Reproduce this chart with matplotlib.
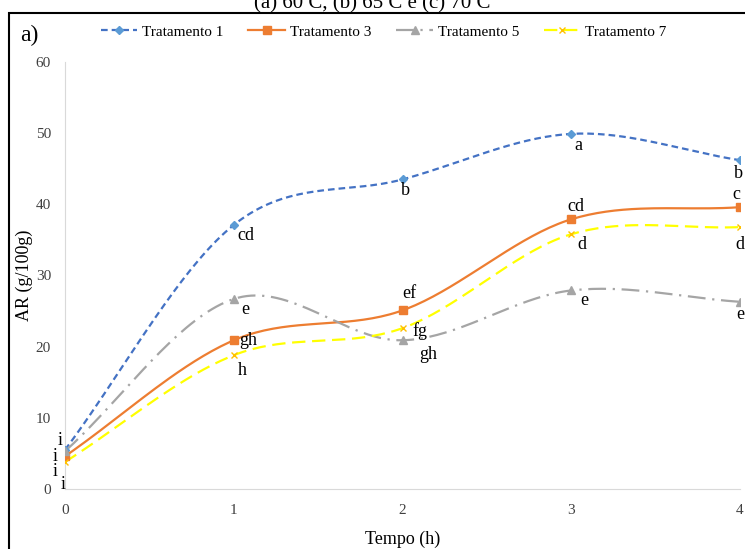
import numpy as np
import matplotlib
matplotlib.use("Agg")
import matplotlib.pyplot as plt
from matplotlib.patches import Rectangle
from matplotlib.lines import Line2D

plt.rcParams['font.family'] = ['Liberation Serif', 'DejaVu Serif']

tempo = [0, 1, 2, 3, 4]
series_names = ["Tratamento 1", "Tratamento 3", "Tratamento 5", "Tratamento 7"]
t1 = [5.5, 37.1, 43.5, 49.9, 46.2]
t3 = [4.6, 20.9, 25.1, 37.9, 39.6]
t5 = [5.3, 26.7, 20.9, 27.9, 26.3]
t7 = [3.8, 18.8, 22.6, 35.8, 36.8]
letters1 = ["i", "cd", "b", "a", "b"]
letters3 = ["i", "gh", "ef", "cd", "c"]
letters5 = ["i", "e", "gh", "e", "e"]
letters7 = ["i", "h", "fg", "d", "d"]
yticks = [0, 10, 20, 30, 40, 50, 60]


def smooth(x, y, n=40):
    x = np.asarray(x, float); y = np.asarray(y, float)
    px = np.concatenate([[2 * x[0] - x[1]], x, [2 * x[-1] - x[-2]]])
    py = np.concatenate([[2 * y[0] - y[1]], y, [2 * y[-1] - y[-2]]])
    xs, ys = [], []
    for i in range(1, len(px) - 2):
        t = np.linspace(0, 1, n)
        for arr, out in ((px, xs), (py, ys)):
            p0, p1, p2, p3 = arr[i - 1], arr[i], arr[i + 1], arr[i + 2]
            m1 = (p2 - p0) / 2; m2 = (p3 - p1) / 2
            h00 = 2*t**3 - 3*t**2 + 1; h10 = t**3 - 2*t**2 + t
            h01 = -2*t**3 + 3*t**2; h11 = t**3 - t**2
            out.extend(h00*p1 + h10*m1 + h01*p2 + h11*m2)
    return np.array(xs), np.array(ys)


fig = plt.figure(figsize=(7.45, 5.49), dpi=100)
ax = fig.add_axes([65/745, 1 - 489/549, 675/745, 427/549])

styles = [
    dict(color="#4472C4", mc="#5B9BD5", ls=(0, (3, 1.8)), marker="D", ms=4, lw=1.6, mew=1),
    dict(color="#ED7D31", mc="#ED7D31", ls="-", marker="s", ms=6, lw=1.6, mew=1),
    dict(color="#A5A5A5", mc="#A5A5A5", ls=(0, (8, 3, 1, 3)), marker="^", ms=6, lw=1.6, mew=1),
    dict(color="#FFFF00", mc="#FFC000", ls=(0, (6, 3)), marker="x", ms=5, lw=1.6, mew=1),
]
data = [t1, t3, t5, t7]
for name, ys, st in zip(series_names, data, styles):
    sx, sy = smooth(tempo, ys)
    ax.plot(sx, sy, color=st["color"], ls=st["ls"], lw=st["lw"], zorder=2)
    ax.plot(tempo, ys, ls="none", marker=st["marker"], ms=st["ms"],
            color=st["mc"], mew=st["mew"], zorder=3)

fs = 13
offs1 = [(-0.03, 1.3), (0.07, -1.5), (0.02, -1.5), (0.04, -1.7), (-0.01, -1.8)]
offs3 = [(-0.06, -2.2), (0.03, 0.0), (0.04, 2.4), (0.03, 1.8), (-0.02, 1.8)]
offs5 = [(-0.06, -0.7), (0.07, -1.5), (0.15, -2.0), (0.08, -1.4), (0.0, -1.8)]
offs7 = [(-0.01, -3.1), (0.05, -2.1), (0.06, -0.4), (0.06, -1.5), (0.0, -2.4)]
for ys, labs, offs in ((t1, letters1, offs1), (t3, letters3, offs3),
                       (t5, letters5, offs5), (t7, letters7, offs7)):
    for x, y, lab, (dx, dy) in zip(tempo, ys, labs, offs):
        ha = "left" if (x > 0 and abs(dy) < 1) else "center"
        ax.text(x + dx, y + dy, lab, fontsize=fs, ha=ha, va="center", zorder=4,
                clip_on=False)

ax.set_xlim(0, 4)
ax.set_ylim(0, 60)
ax.set_xticks(tempo)
ax.set_yticks(yticks)
ax.tick_params(axis="both", length=0, labelsize=11, colors="#404040")
ax.tick_params(axis="x", pad=11)
ax.tick_params(axis="y", pad=10)
for sp in ("top", "right"):
    ax.spines[sp].set_visible(False)
for sp in ("left", "bottom"):
    ax.spines[sp].set_color("#D9D9D9")
ax.set_xlabel("Tempo (h)", fontsize=13, labelpad=10)
ax.set_ylabel("AR (g/100g)", fontsize=13, labelpad=2)

handles = [Line2D([], [], color=st["color"], ls=st["ls"], lw=st["lw"],
                  marker=st["marker"], ms=st["ms"], mew=st["mew"], mfc=st["mc"],
                  mec=st["mc"]) for st in styles]
fig.legend(handles, series_names, loc="center", bbox_to_anchor=(0.515, 1 - 32/549),
           ncol=4, frameon=False, fontsize=11, handlelength=2.4, columnspacing=1.65,
           handletextpad=0.3)

fig.text(20/745, 1 - 35/549, "a)", fontsize=17, ha="left", va="center")
fig.text(0.5, 1 - 4/549, "(a) 60 C, (b) 65 C e (c) 70 C", fontsize=15,
         ha="center", va="center")
fig.patches.append(Rectangle((9/745, -0.1), 1.2, 0.1 + (549 - 13)/549,
                             transform=fig.transFigure, fill=False,
                             edgecolor="black", lw=1.5))

fig.savefig("out.png", dpi=100)
